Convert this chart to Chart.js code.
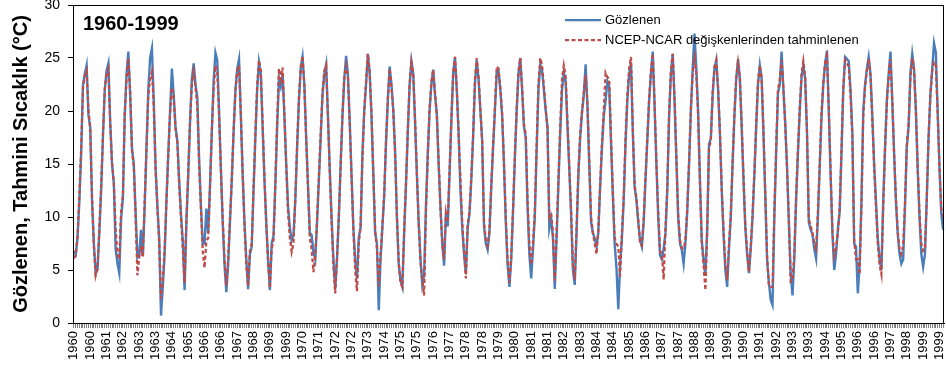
<!DOCTYPE html>
<html>
<head>
<meta charset="utf-8">
<script src="https://cdn.jsdelivr.net/npm/chart.js@4.4.1/dist/chart.umd.min.js"></script>
<style>
  html, body { margin: 0; padding: 0; background: #fff; }
  #wrap { width: 946px; height: 369px; }
</style>
</head>
<body>
<div id="wrap"><canvas id="chartId" width="946" height="369"></canvas></div>
<script>
// years of the record, one row of 12 monthly values per year below
const years = [];
for (let y = 1960; y <= 1999; y++) years.push(y);

// Gözlenen (observed), Jan..Dec
const observed = [
    6.8, 6.5, 8.0, 11.5, 16.0, 22.5, 23.5, 24.3, 19.6, 18.5, 11.5, 7.5,
    4.7, 5.0, 8.5, 12.5, 17.5, 22.0, 23.8, 24.5, 19.0, 15.0, 13.2, 7.0,
    5.6, 4.7, 9.8, 11.8, 19.5, 23.5, 25.6, 21.5, 16.5, 15.0, 10.5, 6.2,
    6.5, 8.8, 6.3, 11.0, 16.5, 22.0, 25.0, 25.9, 21.0, 14.7, 11.0, 8.0,
    0.7, 3.5, 6.5, 11.6, 16.0, 20.0, 24.0, 21.5, 18.5, 17.2, 13.5, 10.3,
    7.8, 3.1, 9.5, 14.0, 19.0, 23.0, 24.5, 22.5, 21.3, 15.5, 11.0, 7.5,
    7.5, 10.8, 8.5, 13.0, 18.0, 22.8, 25.5, 24.8, 20.0, 14.5, 9.5, 5.5,
    2.9, 5.5, 9.5, 13.5, 18.0, 22.0, 24.0, 24.9, 19.5, 14.0, 9.5, 6.0,
    3.2, 6.5, 7.2, 12.5, 17.5, 22.0, 24.6, 23.5, 18.5, 13.5, 9.5, 6.0,
    3.1, 7.5, 8.2, 13.0, 18.5, 23.0, 22.3, 23.5, 19.5, 15.0, 11.0, 9.0,
    7.8, 8.3, 11.5, 16.5, 21.0, 24.0, 25.1, 22.5, 17.5, 13.0, 8.5, 8.3,
    6.7, 6.0, 9.5, 13.5, 17.5, 21.5, 23.5, 24.4, 19.5, 14.5, 10.0, 6.0,
    3.2, 6.0, 10.0, 15.0, 19.5, 23.0, 25.2, 23.5, 19.0, 14.0, 9.0, 6.0,
    4.2, 8.1, 9.0, 16.0, 20.0, 22.5, 25.4, 23.5, 19.5, 14.0, 8.5, 7.5,
    1.2, 6.0, 9.0, 12.0, 17.0, 21.0, 24.2, 22.5, 20.1, 16.3, 10.0, 5.5,
    4.0, 3.4, 8.5, 13.0, 18.0, 22.5, 24.7, 23.5, 19.0, 14.0, 9.5, 6.0,
    3.6, 4.5, 11.0, 16.0, 20.0, 22.5, 23.9, 21.5, 19.8, 15.0, 11.0, 7.5,
    5.4, 10.3, 9.1, 14.0, 19.0, 23.5, 25.1, 22.0, 17.9, 12.6, 9.0, 6.5,
    4.7, 9.0, 10.3, 13.5, 17.5, 22.5, 24.8, 23.0, 20.0, 17.2, 9.1, 7.5,
    6.9, 8.5, 12.8, 16.5, 20.0, 23.6, 23.8, 22.0, 19.5, 15.0, 9.5, 5.5,
    3.4, 6.0, 10.5, 15.5, 20.0, 23.5, 25.0, 22.0, 18.5, 17.5, 11.0, 6.5,
    4.2, 7.0, 10.0, 16.3, 22.0, 24.4, 23.8, 22.0, 20.0, 18.5, 8.9, 9.8,
    8.0, 3.2, 8.0, 13.0, 18.0, 22.0, 23.6, 22.8, 18.5, 14.5, 10.3, 5.0,
    3.6, 8.5, 14.0, 17.5, 19.8, 21.5, 24.4, 20.5, 15.0, 9.5, 8.5, 8.0,
    7.2, 8.5, 12.8, 16.5, 19.5, 21.0, 22.8, 22.3, 17.0, 12.0, 7.5, 5.2,
    1.3, 5.5, 8.0, 11.6, 17.0, 21.0, 23.5, 24.6, 18.0, 12.8, 11.6, 9.5,
    7.8, 7.2, 9.5, 13.5, 17.2, 21.0, 23.5, 25.6, 20.5, 15.0, 10.0, 6.4,
    6.0, 7.0, 8.5, 12.5, 19.5, 23.5, 25.4, 21.0, 15.5, 10.0, 7.5, 6.9,
    5.6, 7.5, 10.5, 15.0, 20.0, 24.0, 27.3, 24.0, 20.0, 13.5, 7.8, 6.0,
    4.5, 9.0, 16.9, 17.4, 21.5, 24.0, 24.8, 22.0, 17.9, 12.5, 8.4, 5.0,
    3.4, 7.0, 10.0, 15.0, 19.5, 23.0, 24.9, 23.0, 18.5, 13.5, 9.0, 6.5,
    4.7, 7.0, 10.0, 14.0, 18.5, 22.5, 24.3, 23.0, 17.9, 12.0, 6.0, 3.8,
    2.2, 1.7, 10.0, 16.0, 21.7, 22.5, 25.6, 22.0, 18.8, 14.7, 9.5, 4.7,
    2.6, 6.0, 11.6, 16.0, 20.0, 23.2, 24.3, 23.0, 17.9, 9.5, 8.8, 8.4,
    7.0, 6.1, 10.0, 14.7, 19.5, 22.5, 24.5, 25.7, 20.0, 14.0, 8.5, 5.0,
    6.5, 8.8, 10.5, 16.0, 22.0, 25.1, 24.9, 24.7, 22.0, 17.9, 7.5, 7.2,
    2.8, 5.5, 11.5, 20.0, 22.5, 24.0, 25.1, 23.5, 19.5, 15.0, 11.5, 8.0,
    6.0, 5.0, 11.5, 16.5, 21.0, 23.5, 25.6, 21.0, 16.0, 11.5, 8.4, 6.5,
    5.6, 6.0, 11.0, 16.6, 18.5, 23.5, 25.4, 24.0, 20.0, 14.5, 10.0, 6.5,
    5.3, 6.5, 11.6, 17.5, 21.5, 24.0, 26.4, 25.5, 20.0, 14.7, 10.3, 8.8
];

// NCEP-NCAR değişkenlerinden tahminlenen (estimated), Jan..Dec
const estimated = [
    6.1, 6.4, 8.2, 12.0, 16.5, 22.2, 23.3, 23.8, 20.2, 18.2, 11.8, 7.2,
    4.5, 5.2, 8.8, 12.8, 17.8, 22.0, 23.5, 24.0, 18.8, 15.2, 13.2, 8.8,
    6.5, 6.0, 10.5, 12.0, 19.8, 23.0, 25.0, 22.0, 16.2, 14.8, 10.0, 4.5,
    6.2, 7.0, 6.2, 11.5, 16.5, 21.5, 23.0, 23.7, 20.5, 14.5, 11.0, 7.5,
    2.3, 4.0, 7.0, 11.5, 15.8, 19.8, 22.2, 21.3, 18.3, 17.0, 13.0, 10.0,
    7.0, 3.8, 9.8, 14.2, 19.0, 22.5, 23.7, 22.3, 20.5, 15.0, 10.8, 6.8,
    5.2, 7.8, 8.0, 12.8, 18.2, 22.0, 24.3, 23.8, 19.5, 14.5, 9.8, 6.0,
    3.5, 6.0, 9.8, 13.5, 18.2, 21.8, 23.8, 24.3, 19.8, 14.2, 9.2, 5.5,
    3.5, 6.8, 7.5, 12.8, 17.8, 22.5, 24.8, 23.8, 18.8, 13.8, 9.3, 5.8,
    3.3, 7.0, 7.8, 13.2, 19.0, 24.0, 23.0, 24.1, 19.8, 14.8, 10.5, 8.0,
    6.7, 7.5, 11.8, 16.8, 21.2, 24.2, 25.2, 22.3, 17.3, 12.8, 8.0, 7.0,
    4.8, 6.2, 9.8, 13.8, 17.8, 21.8, 23.8, 24.3, 19.5, 14.2, 9.5, 5.5,
    2.8, 6.2, 10.2, 14.8, 19.8, 23.2, 24.3, 23.2, 18.8, 13.8, 8.8, 5.0,
    3.0, 7.5, 9.2, 15.5, 20.0, 22.8, 25.4, 23.8, 19.8, 14.2, 8.8, 7.0,
    3.5, 6.5, 9.2, 12.2, 17.2, 21.2, 24.0, 22.3, 20.0, 16.0, 10.2, 5.8,
    3.8, 3.4, 8.8, 13.2, 18.2, 22.5, 24.6, 23.6, 19.2, 14.2, 9.5, 5.8,
    4.0, 2.6, 10.5, 15.5, 20.2, 22.8, 23.9, 21.8, 19.5, 15.2, 10.8, 7.5,
    6.0, 10.4, 9.5, 14.3, 19.2, 23.5, 25.1, 22.2, 17.8, 13.7, 9.5, 6.8,
    4.2, 9.3, 10.5, 13.8, 17.8, 23.0, 25.0, 23.2, 20.2, 17.0, 9.5, 7.8,
    7.3, 8.8, 13.0, 16.8, 20.3, 24.2, 24.0, 22.2, 19.8, 15.2, 10.0, 6.0,
    3.8, 6.3, 10.8, 15.8, 20.2, 23.8, 25.0, 22.2, 18.8, 17.8, 11.5, 7.5,
    5.5, 7.5, 10.5, 16.8, 22.5, 25.0, 24.3, 22.3, 20.2, 18.3, 10.0, 10.4,
    8.5, 4.0, 8.5, 13.5, 18.5, 23.0, 24.3, 23.3, 19.0, 14.8, 10.5, 5.5,
    4.1, 9.0, 14.2, 17.8, 20.0, 21.8, 23.4, 20.8, 15.3, 10.0, 8.5, 7.5,
    6.5, 8.8, 13.0, 17.0, 20.0, 23.6, 23.2, 23.0, 17.5, 12.5, 8.0, 7.5,
    7.2, 4.4, 8.5, 12.0, 17.5, 21.5, 24.0, 25.1, 18.5, 13.0, 11.8, 9.8,
    7.5, 7.3, 9.8, 13.8, 17.5, 21.2, 23.8, 25.4, 20.8, 15.2, 10.5, 6.8,
    6.5, 4.1, 8.8, 12.8, 19.8, 23.8, 25.4, 21.3, 15.8, 10.3, 7.8, 7.1,
    7.0, 7.8, 10.8, 15.2, 20.2, 23.5, 25.0, 23.5, 19.5, 13.2, 7.5, 5.5,
    3.1, 8.5, 16.5, 17.2, 21.8, 24.2, 24.8, 22.2, 18.2, 12.8, 8.8, 5.5,
    4.1, 7.3, 10.3, 15.3, 19.8, 23.2, 24.6, 23.2, 18.8, 13.8, 9.3, 6.8,
    4.8, 7.2, 10.3, 14.2, 18.8, 22.8, 24.3, 23.2, 18.2, 12.3, 6.3, 3.5,
    3.4, 3.4, 10.5, 16.5, 22.0, 23.0, 24.8, 22.2, 18.8, 14.5, 9.8, 3.9,
    4.0, 6.5, 12.0, 16.3, 20.3, 23.5, 24.7, 23.2, 18.0, 9.8, 9.2, 8.5,
    7.5, 7.0, 10.3, 15.0, 19.8, 22.8, 24.6, 25.2, 20.3, 14.3, 8.8, 6.3,
    7.0, 8.5, 10.8, 16.3, 22.3, 24.8, 24.5, 24.2, 21.5, 17.5, 7.8, 6.0,
    6.0, 4.6, 11.0, 19.5, 22.3, 23.8, 24.9, 23.2, 19.2, 14.8, 11.0, 7.5,
    5.5, 4.6, 11.0, 16.3, 20.8, 23.3, 24.9, 20.8, 16.0, 11.8, 8.6, 7.0,
    6.5, 7.3, 11.2, 16.8, 18.8, 23.2, 25.0, 23.8, 20.2, 14.8, 10.3, 7.5,
    6.8, 7.0, 11.8, 17.6, 21.6, 23.8, 24.6, 24.4, 19.8, 14.8, 10.8, 10.0
];

const seriesNames = ['Gözlenen', 'NCEP-NCAR değişkenlerinden tahminlenen'];
const seriesColors = ['#4A7EBB', '#BE4B48'];
const labelEvery = 9;   // excel shows a year label every 9th month

// one category per month, labelled with its year
const labels = [];
years.forEach(y => {
    for (let m = 0; m < 12; m++) labels.push(String(y));
});

Chart.defaults.font.family = "'Liberation Sans', Arial, sans-serif";
Chart.defaults.color = '#000';

// frame, period title and the legend drawn inside the plot area
const extras = {
    id: 'extras',
    afterDraw(chart) {
        const ctx = chart.ctx;
        const a = chart.chartArea;
        ctx.save();
        ctx.strokeStyle = '#000';
        ctx.lineWidth = 1;
        ctx.strokeRect(Math.round(a.left) + 0.5, Math.round(a.top) + 0.5,
            Math.round(a.right - a.left) - 1, Math.round(a.bottom - a.top));

        ctx.fillStyle = '#000';
        ctx.textBaseline = 'middle';
        ctx.font = "bold 20px 'Liberation Sans', Arial, sans-serif";
        ctx.fillText('1960-1999', a.left + 10, 24);

        ctx.font = "13px 'Liberation Sans', Arial, sans-serif";
        const rows = [20, 40];
        for (let i = 0; i < 2; i++) {
            ctx.beginPath();
            ctx.strokeStyle = seriesColors[i];
            ctx.lineWidth = 2.25;
            ctx.setLineDash(i === 1 ? [4, 2.5] : []);
            ctx.moveTo(565, rows[i]);
            ctx.lineTo(601, rows[i]);
            ctx.stroke();
            ctx.setLineDash([]);
            ctx.fillText(seriesNames[i], 605, rows[i]);
        }
        ctx.restore();
    }
};

var chrt = document.getElementById('chartId').getContext('2d');
var chartId = new Chart(chrt, {
    type: 'line',
    data: {
        labels: labels,
        datasets: [{
            label: seriesNames[0],
            data: observed,
            borderColor: seriesColors[0],
            borderWidth: 2.4,
            pointRadius: 0,
            order: 2
        }, {
            label: seriesNames[1],
            data: estimated,
            borderColor: seriesColors[1],
            borderWidth: 2.25,
            borderDash: [4, 2.5],
            pointRadius: 0,
            order: 1
        }]
    },
    options: {
        responsive: false,
        animation: false,
        layout: { padding: { left: 0, top: 5, right: 2, bottom: 0 } },
        plugins: {
            legend: { display: false },
            tooltip: { enabled: false }
        },
        scales: {
            x: {
                type: 'category',
                offset: true,
                afterFit: s => {
                    s.height = 46;
                    s.paddingLeft = 0;
                    s.paddingRight = 0;
                },
                border: { display: true, color: '#000', width: 1 },
                grid: {
                    display: true,
                    drawOnChartArea: false,
                    drawTicks: true,
                    tickLength: 5,
                    color: '#808080',
                    lineWidth: 1
                },
                ticks: {
                    autoSkip: false,
                    maxRotation: 90,
                    minRotation: 90,
                    padding: 3,
                    font: { size: 13 },
                    color: '#000',
                    callback: function (v, i) {
                        return i % labelEvery === 0 ? this.getLabelForValue(v) : '';
                    }
                }
            },
            y: {
                min: 0,
                max: 30,
                afterFit: s => {
                    s.width = 73;
                    s.paddingTop = 0;
                    s.paddingBottom = 0;
                },
                border: { display: true, color: '#000', width: 1 },
                grid: {
                    display: true,
                    drawOnChartArea: false,
                    drawTicks: true,
                    tickLength: 5,
                    color: '#000'
                },
                ticks: {
                    stepSize: 5,
                    padding: 8,
                    font: { size: 14 },
                    color: '#000'
                },
                title: {
                    display: true,
                    text: 'Gözlenen, Tahmini Sıcaklık (°C)',
                    font: { size: 20, weight: 'bold' },
                    color: '#000',
                    padding: { top: 9, bottom: 0 }
                }
            }
        }
    },
    plugins: [extras]
});
</script>
</body>
</html>
